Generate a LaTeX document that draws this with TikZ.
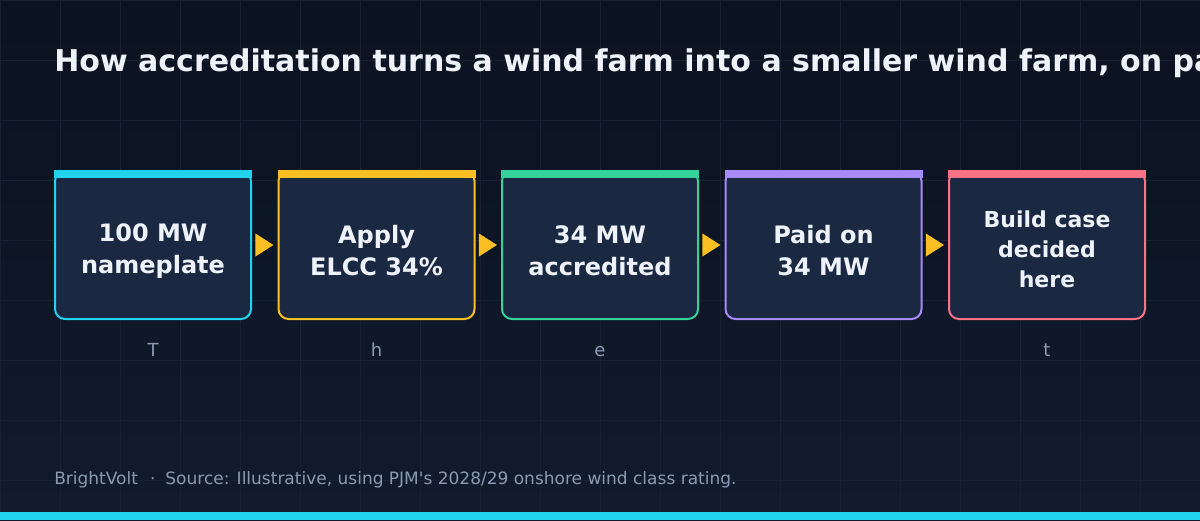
\documentclass[tikz,border=0pt]{standalone}
\usepackage{fontspec}
\setmainfont{DejaVu Sans}
\usetikzlibrary{positioning,shapes.geometric}

\definecolor{bgtop}{HTML}{0B1220}
\definecolor{bgbottom}{HTML}{111B2D}
\definecolor{gridcol}{HTML}{162131}
\definecolor{boxfill}{HTML}{1B2842}
\definecolor{inkwhite}{HTML}{EEF3FB}
\definecolor{inkgray}{HTML}{8B9AB3}
\definecolor{cyanc}{HTML}{22D3EE}
\definecolor{goldc}{HTML}{FBBF24}
\definecolor{greenc}{HTML}{34D399}
\definecolor{violetc}{HTML}{A78BFA}
\definecolor{rosec}{HTML}{FB7185}

\begin{document}
\begin{tikzpicture}[x=1pt,y=-1pt,node distance=27.5pt,semithick]
  \tikzstyle{stage}=[draw,line width=2pt,fill=boxfill,rounded corners=10pt,
                     minimum width=196pt,minimum height=148pt,inner sep=0pt,
                     outer sep=0pt]
  \tikzstyle{stagetext}=[align=center,text=inkwhite,inner sep=0pt,
                         font=\bfseries\fontsize{24}{32}\selectfont]
  \tikzstyle{tag}=[anchor=base,text=inkgray,font=\fontsize{18}{22}\selectfont]
  \tikzstyle{tip}=[isosceles triangle,isosceles triangle stretches,fill=goldc,
                   minimum width=23pt,minimum height=18pt,inner sep=0pt]

  \clip (0,0) rectangle (1200,520);
  \shade[top color=bgtop,bottom color=bgbottom] (0,0) rectangle (1200,520);
  \draw[gridcol,line width=1pt] (0,520) grid[step=60pt] (1200,0);
  \fill[cyanc] (0,512) rectangle (1200,520);

  \node[anchor=base west,inner sep=0pt,text=inkwhite,
        font=\bfseries\fontsize{30}{36}\selectfont] (title) at (54,71)
    {How accreditation turns a wind farm into a smaller wind farm, on paper};

  \node[stage,draw=cyanc] (nameplate) at (153,245) {};
  \node[stage,draw=goldc,right=of nameplate] (elcc) {};
  \node[stage,draw=greenc,right=of elcc] (accredited) {};
  \node[stage,draw=violetc,right=of accredited] (paid) {};
  \node[stage,draw=rosec,right=of paid] (buildcase) {};

  % colour bars on top of each stage
  \fill[cyanc] ([xshift=-1pt,yshift=1pt]nameplate.north west)
    rectangle ([xshift=1pt,yshift=-7pt]nameplate.north east);
  \fill[goldc] ([xshift=-1pt,yshift=1pt]elcc.north west)
    rectangle ([xshift=1pt,yshift=-7pt]elcc.north east);
  \fill[greenc] ([xshift=-1pt,yshift=1pt]accredited.north west)
    rectangle ([xshift=1pt,yshift=-7pt]accredited.north east);
  \fill[violetc] ([xshift=-1pt,yshift=1pt]paid.north west)
    rectangle ([xshift=1pt,yshift=-7pt]paid.north east);
  \fill[rosec] ([xshift=-1pt,yshift=1pt]buildcase.north west)
    rectangle ([xshift=1pt,yshift=-7pt]buildcase.north east);

  \node[stagetext] (nameplate text) at ([yshift=-6pt]nameplate.center)
    {100 MW\\nameplate};
  \node[stagetext] (elcc text) at ([yshift=-6pt]elcc.center)
    {Apply\\ELCC 34\%};
  \node[stagetext] (accredited text) at ([yshift=-6pt]accredited.center)
    {34 MW\\accredited};
  \node[stagetext] (paid text) at ([yshift=-6pt]paid.center)
    {Paid on\\34 MW};
  \node[stagetext,font=\bfseries\fontsize{22}{30}\selectfont] (buildcase text)
    at ([yshift=-4pt]buildcase.center) {Build case\\decided\\here};

  \path (nameplate) -- (elcc) node[tip,midway,xshift=-3pt] {}
        (elcc) -- (accredited) node[tip,midway,xshift=-3pt] {}
        (accredited) -- (paid) node[tip,midway,xshift=-3pt] {}
        (paid) -- (buildcase) node[tip,midway,xshift=-3pt] {};

  \node[tag] (tagT) at ([yshift=-37pt]nameplate.south) {T};
  \node[tag] (tagh) at ([yshift=-37pt]elcc.south) {h};
  \node[tag] (tage) at ([yshift=-37pt]accredited.south) {e};
  \node[tag] (tagt) at ([yshift=-37pt]buildcase.south) {t};

  \node[anchor=base west,inner sep=0pt,text=inkgray,
        font=\fontsize{17}{20}\selectfont] (footer) at (54,484)
    {BrightVolt\hspace{12pt}·\hspace{10pt}Source: Illustrative, using
     PJM\textquotesingle s 2028/29 onshore wind class rating.};
\end{tikzpicture}
\end{document}
